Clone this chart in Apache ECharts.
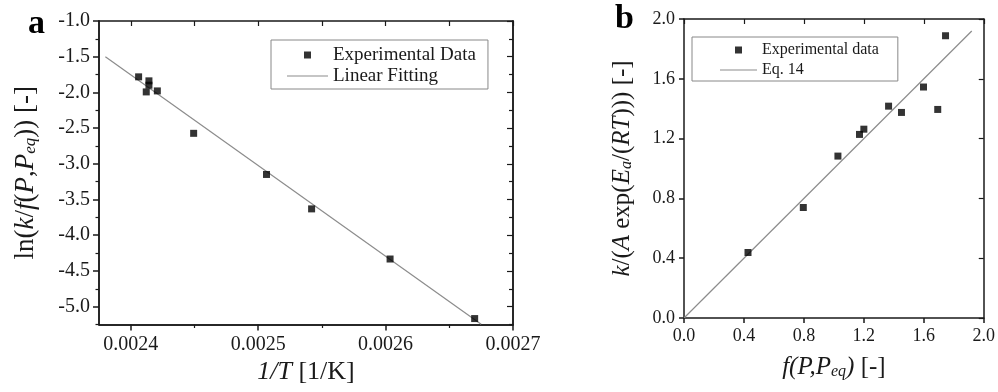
<!DOCTYPE html>
<html>
<head>
<meta charset="utf-8">
<script src="https://cdn.jsdelivr.net/npm/echarts@6/dist/echarts.min.js"></script>
<style>
  html, body { margin: 0; padding: 0; background: #fff; }
  #chart { width: 998px; height: 392px; }
</style>
</head>
<body>
<div id="chart"></div>
<script>
// Panel a: Arrhenius-type plot
const aInvT = [0.0024061, 0.0024142, 0.0024142, 0.0024121, 0.0024208, 0.0024493, 0.0025065, 0.0025419, 0.0026035, 0.0026699];
const aLnK  = [-1.782, -1.838, -1.899, -1.993, -1.979, -2.573, -3.149, -3.631, -4.333, -5.167];
const aFitX = [0.00238, 0.002675];
const aFitY = [-1.50, -5.245];
const aXTicks = [0.0024, 0.0025, 0.0026, 0.0027];
const aXMinor = [0.00245, 0.00255, 0.00265];
const aYTicks = [-5.0, -4.5, -4.0, -3.5, -3.0, -2.5, -2.0, -1.5, -1.0];
const aYMinor = [-5.25, -4.75, -4.25, -3.75, -3.25, -2.75, -2.25, -1.75, -1.25];

// Panel b: normalised rate constant vs driving force
const bF   = [0.427, 0.796, 1.027, 1.171, 1.200, 1.365, 1.451, 1.598, 1.693, 1.745];
const bK   = [0.438, 0.739, 1.083, 1.228, 1.263, 1.417, 1.375, 1.545, 1.395, 1.888];
const bEqX = [0, 1.92];
const bEqY = [0, 1.92];

const SERIF = '"Liberation Serif", "Times New Roman", serif';
const INK = '#1a1a1a';
const FIT = '#8c8c8c';
const pair = (xs, ys) => xs.map((x, i) => [x, ys[i]]);

// legend glyphs: a small square for markers, a hairline bar for fitted lines
const SQUARE = 'path://M0,0H1V1H0Z';
const HAIRLINE = 'path://M0,0H40V1H0Z';

function richName(size) {
  return {
    n: { fontFamily: SERIF, fontSize: size, color: INK, verticalAlign: 'top', lineHeight: size },
    i: { fontFamily: SERIF, fontSize: size, color: INK, fontStyle: 'italic', verticalAlign: 'top', lineHeight: size },
    s: { fontFamily: SERIF, fontSize: Math.round(size * 0.62), color: INK, fontStyle: 'italic',
         verticalAlign: 'bottom', lineHeight: Math.round(size * 0.62), padding: [Math.round(size * 0.58), 0, 0, 0] }
  };
}

const line = { show: true, onZero: false, lineStyle: { color: INK, width: 1.5 } };
const hidden = { show: false };

function frameAxis(extra) {
  return Object.assign({
    type: 'value', axisLine: line, splitLine: hidden, axisLabel: hidden
  }, extra);
}

const option = {
  backgroundColor: '#fff',
  animation: false,
  title: [
    { text: 'a', left: 23, top: 2, textStyle: { fontFamily: SERIF, fontSize: 34, fontWeight: 'bold', color: '#000' } },
    { text: 'b', left: 610, top: -3, textStyle: { fontFamily: SERIF, fontSize: 34, fontWeight: 'bold', color: '#000' } }
  ],
  grid: [
    { left: 99, top: 21, width: 414, height: 303.5 },
    { left: 684, top: 19, width: 300, height: 299 }
  ],
  legend: [
    {
      data: [
        { name: 'Experimental Data', icon: SQUARE },
        { name: 'Linear Fitting', icon: HAIRLINE }
      ],
      orient: 'vertical', left: 271, top: 40,
      itemWidth: 41, itemHeight: 7, itemGap: 1,
      padding: [5, 12, 3, 16],
      borderColor: '#888', borderWidth: 1,
      textStyle: { fontFamily: SERIF, fontSize: 19, color: INK, lineHeight: 20 }
    },
    {
      data: [
        { name: 'Experimental data', icon: SQUARE },
        { name: 'Eq. 14', icon: HAIRLINE }
      ],
      orient: 'vertical', left: 692, top: 37,
      itemWidth: 37, itemHeight: 7, itemGap: 2,
      padding: [4, 19, 2, 28],
      borderColor: '#888', borderWidth: 1,
      textStyle: { fontFamily: SERIF, fontSize: 16, color: INK, lineHeight: 18 }
    }
  ],
  xAxis: [
    // panel a, bottom: major ticks + labels
    frameAxis({
      gridIndex: 0, position: 'bottom', min: 0.002375, max: 0.0027,
      axisTick: { show: true, inside: false, length: 6, customValues: aXTicks, lineStyle: { color: INK, width: 1.5 } },
      axisLabel: { show: true, customValues: aXTicks, margin: 10, formatter: v => v.toFixed(4),
                   fontFamily: SERIF, fontSize: 20, color: INK },
      name: '{i|1/T}{n| [1/K]}', nameLocation: 'middle', nameGap: 30,
      nameTextStyle: { rich: richName(26) }
    }),
    // panel a, bottom: minor ticks
    frameAxis({
      gridIndex: 0, position: 'bottom', min: 0.002375, max: 0.0027,
      axisTick: { show: true, inside: false, length: 3.5, customValues: aXMinor, lineStyle: { color: INK, width: 1.2 } }
    }),
    // panel a, top frame
    frameAxis({
      gridIndex: 0, position: 'top', min: 0.002375, max: 0.0027,
      axisTick: { show: true, inside: true, length: 5, customValues: aXTicks.concat(aXMinor), lineStyle: { color: INK, width: 1.2 } }
    }),
    // panel b, bottom
    frameAxis({
      gridIndex: 1, position: 'bottom', min: 0, max: 2, interval: 0.4,
      axisTick: { show: true, inside: false, length: 5, lineStyle: { color: INK, width: 1.5 } },
      axisLabel: { show: true, margin: 9, formatter: v => v.toFixed(1), fontFamily: SERIF, fontSize: 18, color: INK },
      name: '{i|f(P,P}{s|eq}{i|)}{n| [-]}', nameLocation: 'middle', nameGap: 35,
      nameTextStyle: { rich: richName(25) }
    }),
    // panel b, top frame
    frameAxis({
      gridIndex: 1, position: 'top', min: 0, max: 2, interval: 0.4,
      axisTick: { show: true, inside: true, length: 5, lineStyle: { color: INK, width: 1.2 } }
    })
  ],
  yAxis: [
    // panel a, left: major ticks + labels
    frameAxis({
      gridIndex: 0, position: 'left', min: -5.25, max: -1.0,
      axisTick: { show: true, inside: false, length: 6, customValues: aYTicks, lineStyle: { color: INK, width: 1.5 } },
      axisLabel: { show: true, customValues: aYTicks, margin: 9, formatter: v => v.toFixed(1),
                   fontFamily: SERIF, fontSize: 20, color: INK },
      name: '{n|ln(}{i|k}{n|/}{i|f}{n|(}{i|P}{n|,}{i|P}{s|eq}{n|)) [-]}', nameLocation: 'middle', nameGap: 60,
      nameTextStyle: { rich: richName(27) }
    }),
    // panel a, left: minor ticks
    frameAxis({
      gridIndex: 0, position: 'left', min: -5.25, max: -1.0,
      axisTick: { show: true, inside: false, length: 3.5, customValues: aYMinor, lineStyle: { color: INK, width: 1.2 } }
    }),
    // panel a, right frame: major + minor
    frameAxis({
      gridIndex: 0, position: 'right', min: -5.25, max: -1.0,
      axisTick: { show: true, inside: true, length: 6, customValues: aYTicks, lineStyle: { color: INK, width: 1.2 } }
    }),
    frameAxis({
      gridIndex: 0, position: 'right', min: -5.25, max: -1.0,
      axisTick: { show: true, inside: true, length: 4, customValues: aYMinor, lineStyle: { color: INK, width: 1.2 } }
    }),
    // panel b, left
    frameAxis({
      gridIndex: 1, position: 'left', min: 0, max: 2, interval: 0.4,
      axisTick: { show: true, inside: false, length: 5, lineStyle: { color: INK, width: 1.5 } },
      axisLabel: { show: true, margin: 9, formatter: v => v.toFixed(1), fontFamily: SERIF, fontSize: 18, color: INK },
      name: '{i|k}{n|/(}{i|A}{n| exp(}{i|E}{s|a}{n|/(}{i|RT}{n|))) [-]}', nameLocation: 'middle', nameGap: 49,
      nameTextStyle: { rich: richName(25) }
    }),
    // panel b, right frame
    frameAxis({
      gridIndex: 1, position: 'right', min: 0, max: 2, interval: 0.4,
      axisTick: { show: true, inside: true, length: 5, lineStyle: { color: INK, width: 1.2 } }
    })
  ],
  series: [
    {
      name: 'Linear Fitting', type: 'line', xAxisIndex: 0, yAxisIndex: 0,
      data: pair(aFitX, aFitY), symbol: 'none', silent: true,
      lineStyle: { color: FIT, width: 1.2 }, itemStyle: { color: FIT }, z: 2
    },
    {
      name: 'Experimental Data', type: 'scatter', xAxisIndex: 0, yAxisIndex: 0,
      data: pair(aInvT, aLnK), symbol: 'rect', symbolSize: 7,
      itemStyle: { color: '#000' }, z: 3
    },
    {
      name: 'Eq. 14', type: 'line', xAxisIndex: 3, yAxisIndex: 4,
      data: pair(bEqX, bEqY), symbol: 'none', silent: true,
      lineStyle: { color: FIT, width: 1.2 }, itemStyle: { color: FIT }, z: 2
    },
    {
      name: 'Experimental data', type: 'scatter', xAxisIndex: 3, yAxisIndex: 4,
      data: pair(bF, bK), symbol: 'rect', symbolSize: 7,
      itemStyle: { color: '#000' }, z: 3
    }
  ]
};

const chart = echarts.init(document.getElementById('chart'), null, { renderer: 'canvas' });
chart.setOption(option);
</script>
</body>
</html>
